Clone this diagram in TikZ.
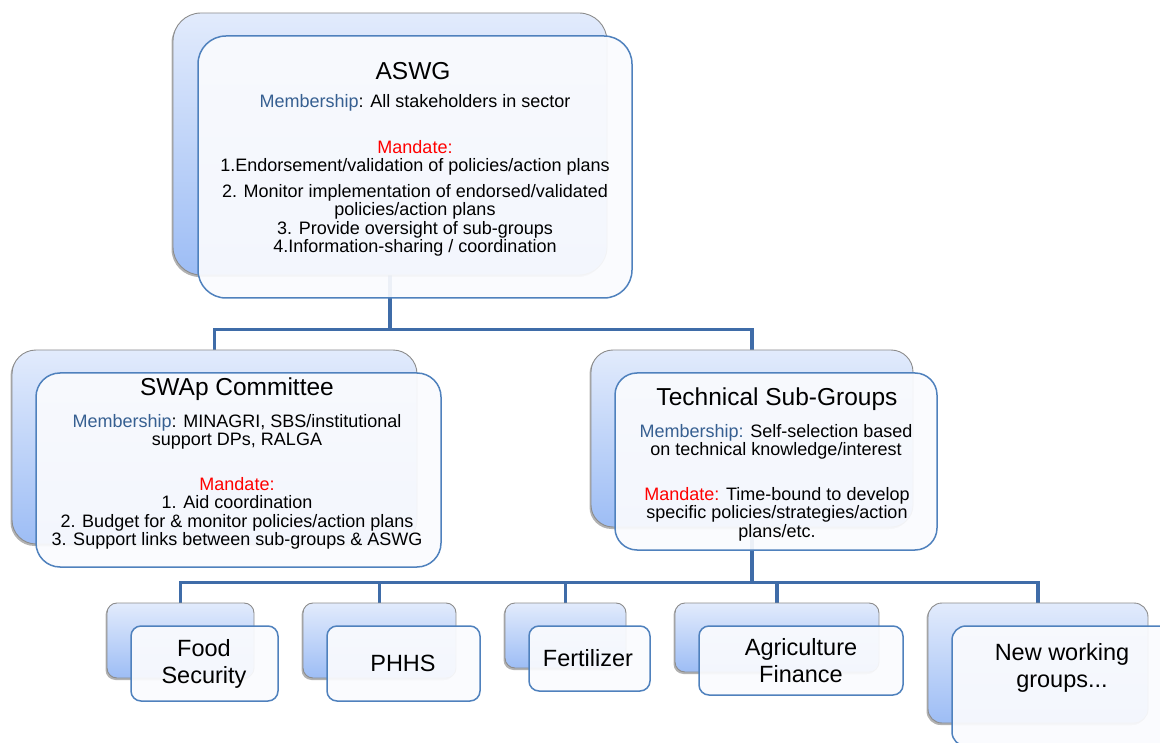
\documentclass[tikz,border=0pt]{standalone}
\usepackage{fontspec}
\setmainfont{Liberation Sans}
\usetikzlibrary{backgrounds,shadows}
\definecolor{backtop}{RGB}{226,235,252}
\definecolor{backbot}{RGB}{157,189,245}
\definecolor{backline}{RGB}{140,140,140}
\definecolor{frontfill}{RGB}{250,251,254}
\definecolor{frontline}{RGB}{79,129,189}
\definecolor{linkblue}{RGB}{63,108,168}
\definecolor{membblue}{RGB}{54,95,145}
\newcommand{\memb}[1]{\textcolor{membblue}{#1}}
\newcommand{\mand}[1]{\textcolor{red}{#1}}
\begin{document}
\begin{tikzpicture}[x=1pt,y=-1pt,line join=round,
  back/.style={draw=backline,line width=0.9pt,rounded corners=#1,top color=backtop,bottom color=backbot,inner sep=0pt,
    drop shadow={shadow xshift=-1.5pt,shadow yshift=-2pt,fill=black,opacity=0.3}},
  front/.style={draw=frontline,line width=1.5pt,rounded corners=#1,fill=frontfill,fill opacity=0.93,inner sep=0pt},
  title/.style={inner sep=0pt,font=\fontsize{24.5}{26}\selectfont},
  body/.style={inner sep=0pt,align=center,font=\fontsize{18}{18.5}\selectfont},
  leaf/.style={inner sep=0pt,align=center,font=\fontsize{23.5}{27}\selectfont},
  link/.style={draw=linkblue,line width=3.6pt}]
\clip (0,0) rectangle (1160,743);
% ASWG
\node[back=28pt,minimum width=434pt,minimum height=262pt] (aswgb) at (390,144) {};
\node[front=28pt,minimum width=434pt,minimum height=262pt] (aswg) at (415,167) {};
\node[title] (aswgt) at (413,71) {ASWG};
\node[body] (aswgm) at (415,103) {\memb{Membership}: All stakeholders in sector};
\node[body,anchor=north] (aswgd) at (415,140) {\mand{Mandate:}\\
  1.Endorsement/validation of policies/action plans\\[7pt]
  2. Monitor implementation of endorsed/validated\\
  policies/action plans\\
  3. Provide oversight of sub-groups\\
  4.Information-sharing / coordination};
% SWAp committee
\node[back=24pt,minimum width=405pt,minimum height=194pt] (swapb) at (214.5,447) {};
\node[front=24pt,minimum width=405pt,minimum height=194pt] (swap) at (238.5,470) {};
\node[title] (swapt) at (237,389) {SWAp Committee};
\node[body,anchor=north] (swapm) at (237,414) {\memb{Membership}: MINAGRI, SBS/institutional\\
  support DPs, RALGA};
\node[body,anchor=north] (swapd) at (237,477) {\mand{Mandate:}\\
  1. Aid coordination\\
  2. Budget for \& monitor policies/action plans\\
  3. Support links between sub-groups \& ASWG};
% technical sub-groups
\node[back=22pt,minimum width=322pt,minimum height=177pt] (techb) at (752,438.5) {};
\node[front=22pt,minimum width=322pt,minimum height=177pt] (tech) at (776,461.5) {};
\node[title] (techt) at (777,399) {Technical Sub-Groups};
\node[body,anchor=north] (techm) at (776,424) {\memb{Membership:} Self-selection based\\
  on technical knowledge/interest};
\node[body,anchor=north] (techd) at (777,487) {\mand{Mandate:} Time-bound to develop\\
  specific policies/strategies/action\\
  plans/etc.};
% working groups
\node[back=10pt,minimum width=147pt,minimum height=75pt] (foodb) at (180.5,640.5) {};
\node[front=10pt,minimum width=147pt,minimum height=75pt] (food) at (204.5,663.5) {};
\node[leaf] (foodt) at (204,664) {Food\\Security};
\node[back=10pt,minimum width=153pt,minimum height=75pt] (phhsb) at (379.5,640.5) {};
\node[front=10pt,minimum width=153pt,minimum height=75pt] (phhs) at (403.5,663.5) {};
\node[leaf] (phhst) at (403,663) {PHHS};
\node[back=10pt,minimum width=121pt,minimum height=65pt] (fertb) at (565.5,635.5) {};
\node[front=10pt,minimum width=121pt,minimum height=65pt] (fert) at (589.5,658.5) {};
\node[leaf] (fertt) at (588,658) {Fertilizer};
\node[back=10pt,minimum width=204pt,minimum height=69pt] (agrib) at (777,637.5) {};
\node[front=10pt,minimum width=204pt,minimum height=69pt] (agri) at (801,660.5) {};
\node[leaf] (agrit) at (801,661) {Agriculture\\Finance};
\node[back=14pt,minimum width=220pt,minimum height=120pt] (newb) at (1038,663) {};
\node[front=14pt,minimum width=220pt,minimum height=120pt] (new) at (1062,686) {};
\node[leaf] (newt) at (1062,668) {New working\\groups...};
% connectors
\begin{scope}[on background layer]
\draw[link] (aswgb.south) -- ++(0,54) -| (swapb.north);
\draw[link] (aswgb.south) -- ++(0,54) -| (techb.north);
\foreach \g in {foodb,phhsb,fertb,agrib,newb}
  \draw[link] (techb.south) -- ++(0,55) -| (\g.north);
\end{scope}
\end{tikzpicture}
\end{document}
